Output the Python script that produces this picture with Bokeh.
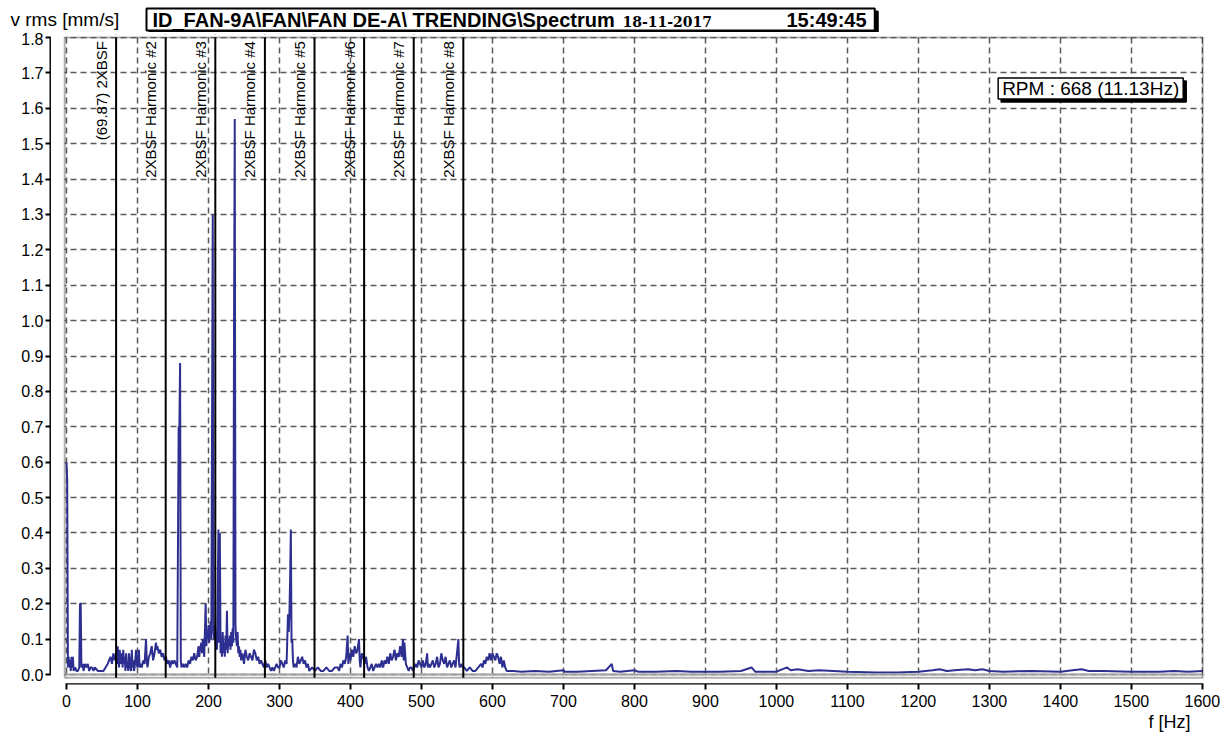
import math
from bokeh.plotting import figure
from bokeh.layouts import column
from bokeh.models import Span, BoxAnnotation, Label, Title, FixedTicker, NumeralTickFormatter, Range1d
from bokeh.embed import file_html
from bokeh.resources import INLINE
from bokeh.core.properties import value

# ---------------- data ----------------
freq = [0, 1, 2, 3, 4, 5, 6, 7, 8, 9, 10, 12, 14, 16, 18, 19, 20, 21, 23, 24, 26, 28, 30, 32, 34, 36, 38, 40,
        44, 48, 52, 55, 58, 60, 62, 64, 66, 68, 70, 71, 72, 73, 74, 75, 76, 78, 79, 80, 81, 82, 83, 84, 85, 86,
        87, 88, 89, 90, 91, 92, 93, 94, 95, 96, 98, 99, 100, 102, 103, 104, 106, 108, 110, 112, 113, 114, 116,
        118, 120, 121, 122, 124, 126, 127, 128, 130, 132, 134, 136, 138, 140, 142, 144, 146, 148, 150, 152, 154,
        156, 158, 159, 160, 161, 162, 164, 166, 168, 170, 172, 174, 176, 178, 180, 182, 184, 186, 187, 188, 190,
        191, 192, 193, 194, 196, 197, 198, 199, 200, 201, 202, 203, 204, 205, 206, 207, 208, 209, 210, 211, 212,
        214, 215, 216, 217, 218, 219, 220, 221, 222, 223, 224, 225, 226, 227, 228, 229, 230, 231, 232, 233, 234,
        235, 236, 237, 238, 239, 240, 241, 242, 243, 244, 245, 246, 248, 250, 252, 254, 256, 258, 260, 262, 264,
        266, 268, 270, 272, 274, 276, 278, 280, 282, 284, 286, 288, 290, 292, 294, 296, 298, 300, 302, 304, 306,
        308, 310, 312, 313, 314, 315, 316, 317, 318, 319, 320, 322, 324, 326, 328, 330, 332, 334, 336, 338, 340,
        342, 346, 350, 354, 358, 362, 366, 370, 374, 378, 382, 384, 386, 388, 390, 392, 394, 396, 397, 398, 400,
        402, 404, 406, 408, 410, 412, 413, 414, 416, 418, 420, 422, 424, 426, 428, 430, 432, 434, 436, 438, 440,
        442, 444, 446, 448, 450, 452, 454, 456, 458, 460, 462, 464, 466, 468, 470, 472, 474, 475, 476, 478, 480,
        482, 484, 486, 488, 490, 492, 494, 496, 498, 500, 502, 504, 506, 508, 509, 510, 512, 514, 516, 518, 520,
        522, 524, 526, 528, 530, 532, 534, 536, 538, 540, 542, 544, 546, 548, 550, 552, 553, 554, 556, 558, 560,
        564, 568, 572, 576, 580, 584, 586, 588, 590, 592, 594, 596, 598, 600, 602, 604, 606, 608, 610, 612, 614,
        616, 618, 620, 624, 630, 640, 660, 680, 700, 702, 720, 740, 760, 768, 770, 780, 800, 805, 830, 860, 880,
        920, 950, 965, 970, 1000, 1015, 1020, 1030, 1045, 1060, 1080, 1100, 1140, 1170, 1200, 1220, 1230, 1240,
        1255, 1270, 1280, 1290, 1300, 1320, 1360, 1400, 1420, 1430, 1440, 1460, 1500, 1540, 1560, 1580, 1600]

amp = [0.60, 0.55, 0.02, 0.05, 0.02, 0.04, 0.01, 0.05, 0.02, 0.05, 0.01, 0.02, 0.01, 0.01, 0.02, 0.20, 0.20,
       0.02, 0.03, 0.01, 0.03, 0.02, 0.03, 0.01, 0.02, 0.02, 0.01, 0.02, 0.01, 0.01, 0.01, 0.02, 0.03, 0.04,
       0.05, 0.03, 0.06, 0.04, 0.06, 0.03, 0.08, 0.05, 0.02, 0.07, 0.03, 0.06, 0.02, 0.07, 0.03, 0.05, 0.01,
       0.06, 0.02, 0.03, 0.01, 0.06, 0.04, 0.02, 0.01, 0.07, 0.02, 0.04, 0.01, 0.02, 0.07, 0.03, 0.02, 0.07,
       0.02, 0.03, 0.02, 0.04, 0.03, 0.10, 0.04, 0.02, 0.05, 0.06, 0.08, 0.06, 0.04, 0.06, 0.09, 0.07, 0.08,
       0.06, 0.07, 0.05, 0.06, 0.04, 0.05, 0.03, 0.04, 0.02, 0.04, 0.03, 0.04, 0.03, 0.02, 0.70, 0.70, 0.88,
       0.04, 0.02, 0.03, 0.02, 0.03, 0.02, 0.04, 0.03, 0.05, 0.04, 0.06, 0.04, 0.05, 0.08, 0.05, 0.07, 0.09,
       0.06, 0.10, 0.07, 0.05, 0.20, 0.08, 0.12, 0.10, 0.14, 0.09, 0.12, 0.15, 0.10, 0.70, 1.30, 0.12, 0.10,
       0.14, 0.08, 0.12, 0.07, 0.41, 0.09, 0.40, 0.06, 0.10, 0.05, 0.12, 0.06, 0.09, 0.05, 0.11, 0.07, 0.18,
       0.06, 0.10, 0.08, 0.11, 0.07, 0.12, 0.08, 0.13, 0.09, 1.00, 1.57, 0.14, 0.10, 0.08, 0.12, 0.06, 0.08,
       0.05, 0.07, 0.04, 0.06, 0.03, 0.07, 0.05, 0.04, 0.06, 0.05, 0.04, 0.07, 0.06, 0.04, 0.05, 0.03, 0.04,
       0.03, 0.02, 0.04, 0.02, 0.03, 0.02, 0.01, 0.02, 0.01, 0.02, 0.03, 0.02, 0.02, 0.04, 0.03, 0.02, 0.04,
       0.03, 0.17, 0.12, 0.17, 0.27, 0.41, 0.09, 0.10, 0.04, 0.02, 0.03, 0.02, 0.05, 0.03, 0.04, 0.05, 0.03,
       0.04, 0.02, 0.03, 0.01, 0.02, 0.01, 0.02, 0.01, 0.01, 0.02, 0.01, 0.01, 0.02, 0.02, 0.01, 0.03, 0.02,
       0.04, 0.03, 0.05, 0.11, 0.03, 0.06, 0.04, 0.07, 0.05, 0.08, 0.06, 0.07, 0.10, 0.04, 0.02, 0.06, 0.05,
       0.03, 0.05, 0.02, 0.01, 0.02, 0.03, 0.01, 0.02, 0.03, 0.02, 0.03, 0.02, 0.04, 0.02, 0.04, 0.03, 0.05,
       0.03, 0.06, 0.04, 0.05, 0.07, 0.04, 0.06, 0.05, 0.08, 0.05, 0.10, 0.04, 0.09, 0.03, 0.02, 0.01, 0.02,
       0.02, 0.01, 0.02, 0.03, 0.02, 0.04, 0.03, 0.02, 0.04, 0.02, 0.03, 0.06, 0.02, 0.03, 0.02, 0.03, 0.04,
       0.02, 0.03, 0.05, 0.02, 0.03, 0.06, 0.04, 0.03, 0.05, 0.02, 0.03, 0.04, 0.02, 0.03, 0.04, 0.02, 0.06,
       0.10, 0.03, 0.02, 0.03, 0.02, 0.02, 0.01, 0.02, 0.01, 0.01, 0.02, 0.03, 0.02, 0.04, 0.03, 0.05, 0.04,
       0.06, 0.04, 0.06, 0.05, 0.04, 0.06, 0.05, 0.03, 0.05, 0.02, 0.04, 0.02, 0.01, 0.01, 0.01, 0.008, 0.01,
       0.008, 0.012, 0.008, 0.008, 0.01, 0.012, 0.03, 0.01, 0.008, 0.012, 0.008, 0.008, 0.01, 0.008, 0.008,
       0.01, 0.02, 0.008, 0.008, 0.02, 0.012, 0.015, 0.01, 0.012, 0.01, 0.008, 0.006, 0.006, 0.008, 0.012,
       0.015, 0.01, 0.013, 0.015, 0.012, 0.015, 0.01, 0.008, 0.01, 0.008, 0.013, 0.015, 0.01, 0.01, 0.008,
       0.008, 0.01, 0.008, 0.01]

harmonic_freqs = [69.87, 139.74, 209.61, 279.48, 349.35, 419.22, 489.09, 558.96]
harmonic_labels = ["(69.87) 2XBSF", "2XBSF Harmonic #2", "2XBSF Harmonic #3", "2XBSF Harmonic #4",
                   "2XBSF Harmonic #5", "2XBSF Harmonic #6", "2XBSF Harmonic #7", "2XBSF Harmonic #8"]

x_ticks = [0, 100, 200, 300, 400, 500, 600, 700, 800, 900, 1000, 1100, 1200, 1300, 1400, 1500, 1600]
y_ticks = [0.0, 0.1, 0.2, 0.3, 0.4, 0.5, 0.6, 0.7, 0.8, 0.9, 1.0, 1.1, 1.2, 1.3, 1.4, 1.5, 1.6, 1.7, 1.8]

title_main = r"ID_FAN-9A\FAN\FAN DE-A\ TRENDING\Spectrum"
title_date = "18-11-2017"
title_time = "15:49:45"
rpm_text = "RPM : 668 (11.13Hz)"
y_label = "v rms [mm/s]"
x_label = "f [Hz]"

FONT = "Liberation Sans"
BLUE = "#2D2F91"

# ---------------- header strip (title row) ----------------
hdr = figure(width=1232, height=32, output_backend="svg", toolbar_location=None, title=None,
             x_range=Range1d(0, 1232), y_range=Range1d(0, 32), x_axis_type=None, y_axis_type=None,
             min_border=0)
hdr.outline_line_color = None
hdr.background_fill_color = "white"
hdr.border_fill_color = "white"

hdr.add_layout(Label(x=10, y=13, text=y_label, text_align="left", text_baseline="middle",
                     text_font=FONT, text_font_size="19px", text_color="black"))
for dx, dy, bg in ((3, -3, "black"), (0, 0, "white")):
    hdr.add_layout(Label(x=146, y=13, x_offset=dx, y_offset=dy, text=title_main, text_align="left",
                         text_baseline="middle", text_font=FONT, text_font_size="20px",
                         text_font_style="bold", text_color="black", background_fill_color=bg,
                         border_line_color="black", border_line_width=2,
                         padding=dict(left=6, right=260, top=0, bottom=0)))
hdr.add_layout(Label(x=622, y=11.5, text=title_date, text_align="left", text_baseline="middle",
                     text_font="DejaVu Serif", text_font_size="14px", text_font_style="bold",
                     text_color="black"))
hdr.add_layout(Label(x=786, y=13, text=title_time, text_align="left", text_baseline="middle",
                     text_font=FONT, text_font_size="20px", text_font_style="bold", text_color="black"))

# ---------------- main plot ----------------
p = figure(width=1232, height=704, output_backend="svg", toolbar_location=None, title=None,
           x_range=Range1d(-22.54, 1603), y_range=Range1d(-0.0254, 1.8085),
           min_border_left=50, min_border_right=28, min_border_top=2, min_border_bottom=53)
p.outline_line_color = None
p.background_fill_color = "white"
p.border_fill_color = "white"

# keep the header strip independent of the main plot frame
try:
    hdr.frame_align = False
    p.frame_align = False
except AttributeError:
    pass

for ax, ticks in ((p.xaxis, x_ticks), (p.yaxis, y_ticks)):
    ax.ticker = FixedTicker(ticks=ticks)
    ax.axis_line_color = "black"
    ax.axis_line_width = 2
    ax.major_tick_line_color = "black"
    ax.major_tick_line_width = 2
    ax.minor_tick_line_color = None
    ax.major_label_text_font = FONT
    ax.major_label_text_font_size = "16px"
    ax.major_label_text_color = "black"

p.xaxis.bounds = (0, 1600)
p.yaxis.bounds = (0, 1.8)
p.xaxis.major_tick_out = 6
p.xaxis.major_tick_in = 2
p.xaxis.major_label_standoff = 5
p.yaxis.major_tick_out = 5
p.yaxis.major_tick_in = 3
p.yaxis.major_label_standoff = 2
p.yaxis.formatter = NumeralTickFormatter(format="0.0")

for g in (p.xgrid, p.ygrid):
    g.grid_line_color = "#5a5a5a"
    g.grid_line_dash = "6 4"
    g.grid_line_width = 1.5

# baseline
p.add_layout(Span(location=0, dimension="width", line_color="#a0a0a0", line_width=2))

# spectrum
p.line(freq, amp, line_color=BLUE, line_width=2)

# harmonic cursor lines
for f in harmonic_freqs:
    p.add_layout(Span(location=f, dimension="height", line_color="black", line_width=2))

p.text(x=harmonic_freqs, y=[1.79] * len(harmonic_freqs), text=harmonic_labels, angle=math.pi / 2,
       text_align="right", text_baseline="alphabetic", x_offset=-15,
       text_font=value(FONT), text_font_size="15px", text_color="black")

# masks separating the axes from the plot box
p.add_layout(BoxAnnotation(left=-22, right=-2.5, fill_color="white", fill_alpha=1, line_color=None))
p.add_layout(BoxAnnotation(top=-0.009, fill_color="white", fill_alpha=1, line_color=None))
p.add_layout(BoxAnnotation(bottom=1.801, fill_color="white", fill_alpha=1, line_color=None))
p.add_layout(BoxAnnotation(left=1600.8, fill_color="white", fill_alpha=1, line_color=None))
# plot box
p.add_layout(BoxAnnotation(left=-2.5, right=1600.5, bottom=-0.009, top=1.8,
                           fill_color=None, fill_alpha=0, line_color="black", line_width=2))

# RPM box with shadow
for dx, dy, bg in ((3, -3, "black"), (0, 0, "white")):
    p.add_layout(Label(x=1573, y=1.656, x_offset=dx, y_offset=dy, text=rpm_text, text_align="right",
                       text_baseline="middle", text_font=FONT, text_font_size="19px", text_color="black",
                       background_fill_color=bg, border_line_color="black", border_line_width=1.5,
                       padding=dict(left=4, right=4, top=0, bottom=0)))

# x axis caption under the tick labels
p.add_layout(Title(text=x_label, align="right", offset=14, standoff=0, text_font=FONT,
                   text_font_size="18px", text_font_style="normal", text_color="black"), "below")

layout = column(hdr, p, spacing=0)
open("out.html", "w").write(file_html(layout, INLINE))
